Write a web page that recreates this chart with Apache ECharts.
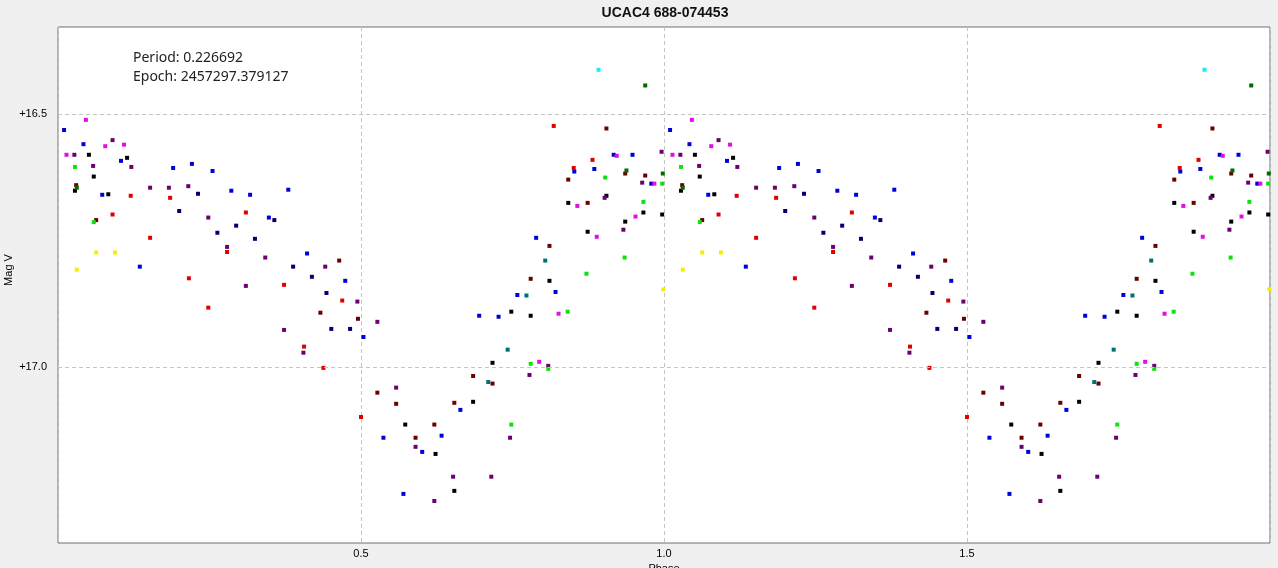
<!DOCTYPE html>
<html>
<head>
<meta charset="utf-8">
<script src="https://cdn.jsdelivr.net/npm/echarts@6/dist/echarts.min.js"></script>
<style>
html,body{margin:0;padding:0;background:#f0f0f0;}
#chart{width:1278px;height:568px;}
</style>
</head>
<body>
<div id="chart"></div>
<script>
// ---- data: [phase, magnitude] for phase 0..1 (plotted again at phase+1) ----
const title = "UCAC4 688-074453";
const infoLines = ["Period: 0.226692", "Epoch: 2457297.379127"];
const yName = "Mag V";
const xTicks = [0.5, 1.0, 1.5];
const yTicks = [16.5, 17.0];

const bluePts = [[0.010,16.531],[0.042,16.559],[0.104,16.592],[0.190,16.606],[0.221,16.598],[0.255,16.612],
  [0.073,16.659],[0.135,16.801],[0.286,16.651],[0.317,16.659],[0.380,16.649],[0.348,16.704],[0.411,16.775],
  [0.474,16.829],[0.504,16.940],[0.695,16.898],[0.727,16.900],[0.664,17.084],[0.537,17.139],[0.633,17.135],
  [0.601,17.167],[0.570,17.250],[0.917,16.580],[0.948,16.580],[0.852,16.613],[0.885,16.608],[0.979,16.637],
  [0.789,16.744],[0.821,16.851],[0.758,16.857]];
const navyPts = [[0.231,16.657],[0.200,16.691],[0.357,16.709],[0.263,16.734],[0.294,16.720],[0.325,16.746],
  [0.388,16.801],[0.419,16.821],[0.443,16.853],[0.451,16.924],[0.482,16.924]];
const redPts = [[0.185,16.665],[0.120,16.661],[0.090,16.698],[0.152,16.744],[0.216,16.824],[0.310,16.694],
  [0.279,16.772],[0.373,16.837],[0.469,16.868],[0.248,16.882],[0.406,16.959],[0.438,17.001],[0.500,17.098],
  [0.818,16.523],[0.882,16.590],[0.851,16.606]];
const darkRedPts = [[0.030,16.640],[0.063,16.709],[0.464,16.789],[0.433,16.892],[0.495,16.904],[0.527,17.050],
  [0.558,17.072],[0.654,17.070],[0.685,17.017],[0.717,17.032],[0.621,17.113],[0.590,17.139],[0.905,16.528],
  [0.936,16.617],[0.969,16.621],[0.842,16.629],[0.874,16.675],[0.811,16.760],[0.780,16.825]];
const blackPts = [[0.051,16.580],[0.114,16.586],[0.059,16.623],[0.028,16.651],[0.083,16.658],[0.748,16.890],
  [0.717,16.991],[0.685,17.068],[0.573,17.113],[0.623,17.171],[0.654,17.244],[0.905,16.661],[0.842,16.675],
  [0.966,16.694],[0.997,16.698],[0.936,16.712],[0.874,16.732],[0.811,16.829],[0.780,16.898]];
const magentaPts = [[0.046,16.511],[0.078,16.563],[0.109,16.560],[0.014,16.580],[0.922,16.582],[0.984,16.637],
  [0.857,16.681],[0.953,16.702],[0.889,16.742],[0.826,16.894],[0.794,16.989]];
const purplePts = [[0.090,16.551],[0.027,16.580],[0.058,16.602],[0.121,16.604],[0.152,16.645],[0.183,16.645],
  [0.215,16.642],[0.248,16.704],[0.279,16.762],[0.342,16.783],[0.441,16.801],[0.310,16.839],[0.494,16.870],
  [0.373,16.926],[0.405,16.971],[0.527,16.910],[0.558,17.040],[0.590,17.157],[0.652,17.216],[0.715,17.216],
  [0.621,17.264],[0.746,17.139],[0.996,16.574],[0.964,16.635],[0.902,16.665],[0.933,16.728],[0.809,16.997],
  [0.778,17.015]];
const greenPts = [[0.028,16.604],[0.059,16.713],[0.748,17.113],[0.903,16.625],[0.997,16.637],[0.966,16.673],
  [0.935,16.783],[0.872,16.815],[0.841,16.890],[0.780,16.993],[0.809,17.003]];
const darkGreenPts = [[0.031,16.645],[0.969,16.443],[0.938,16.611],[0.998,16.617]];
const yellowPts = [[0.063,16.773],[0.094,16.773],[0.031,16.807],[0.999,16.846]];
const tealPts = [[0.742,16.965],[0.710,17.029],[0.804,16.789],[0.773,16.858]];
const cyanPts = [[0.892,16.412]];

const groups = [
  [bluePts, '#0000d8'], [navyPts, '#000070'], [redPts, '#e00000'], [darkRedPts, '#6c0000'],
  [blackPts, '#000000'], [magentaPts, '#e010e0'], [purplePts, '#6c006c'], [greenPts, '#10e010'],
  [darkGreenPts, '#006c00'], [yellowPts, '#f0f000'], [tealPts, '#007070'], [cyanPts, '#10f0f0']
];

const chart = echarts.init(document.getElementById('chart'), null, {renderer: 'canvas'});

const series = [{
  type: 'scatter', data: [], z: 1, silent: true,
  markLine: {
    silent: true, symbol: ['none', 'none'], label: {show: false}, animation: false,
    lineStyle: {type: [4, 3], color: '#c4c4c4', width: 1},
    data: yTicks.map(v => ({yAxis: v}))
  }
}];
groups.forEach(([pts, color]) => {
  const data = pts.map(p => [p[0], p[1]]).concat(pts.map(p => [p[0] + 1, p[1]]));
  series.push({
    type: 'scatter', data: data, z: 3, symbol: 'rect', symbolSize: [4, 4],
    itemStyle: {color: color, opacity: 1}, silent: true
  });
});

chart.setOption({
  animation: false,
  backgroundColor: '#f0f0f0',
  grid: {left: 58, right: 8, top: 27, bottom: 25, show: true, backgroundColor: '#ffffff',
         borderColor: '#6e6e6e', borderWidth: 1, containLabel: false, outerBoundsMode: 'none'},
  xAxis: {
    type: 'value', min: 0, max: 2, interval: 0.5,
    name: 'Phase', nameLocation: 'middle', nameGap: 18,
    nameTextStyle: {fontFamily: 'Liberation Sans', fontSize: 11, color: '#000'},
    axisLine: {show: false}, axisTick: {show: false},
    axisLabel: {showMinLabel: false, showMaxLabel: false, margin: 5, color: '#000',
      fontFamily: 'Liberation Sans', fontSize: 11, formatter: v => v.toFixed(1)},
    splitLine: {show: true, lineStyle: {type: [4, 3], color: '#c4c4c4', width: 1}}
  },
  yAxis: {
    type: 'value', inverse: true, min: 16.3275, max: 17.347,
    axisLine: {show: false}, axisTick: {show: false},
    axisLabel: {customValues: yTicks, margin: 11, color: '#000',
      fontFamily: 'Liberation Sans', fontSize: 11, formatter: v => '+' + v.toFixed(1)},
    splitLine: {show: false}
  },
  graphic: [
    {type: 'text', x: 665, y: 13, silent: true, style: {text: title, fill: '#111',
      font: 'bold 14px "Liberation Sans"', textAlign: 'center', textVerticalAlign: 'middle'}},
    {type: 'text', x: 9, y: 270, rotation: Math.PI / 2, silent: true, style: {text: yName, fill: '#000',
      font: '11px "Liberation Sans"', textAlign: 'center', textVerticalAlign: 'middle'}},
    {type: 'text', x: 133, y: 58, silent: true, style: {text: infoLines[0], fill: '#222',
      font: '14px "Noto Sans"', textAlign: 'left', textVerticalAlign: 'middle'}},
    {type: 'text', x: 133, y: 77, silent: true, style: {text: infoLines[1], fill: '#222',
      font: '14px "Noto Sans"', textAlign: 'left', textVerticalAlign: 'middle'}}
  ],
  series: series
});
</script>
</body>
</html>
